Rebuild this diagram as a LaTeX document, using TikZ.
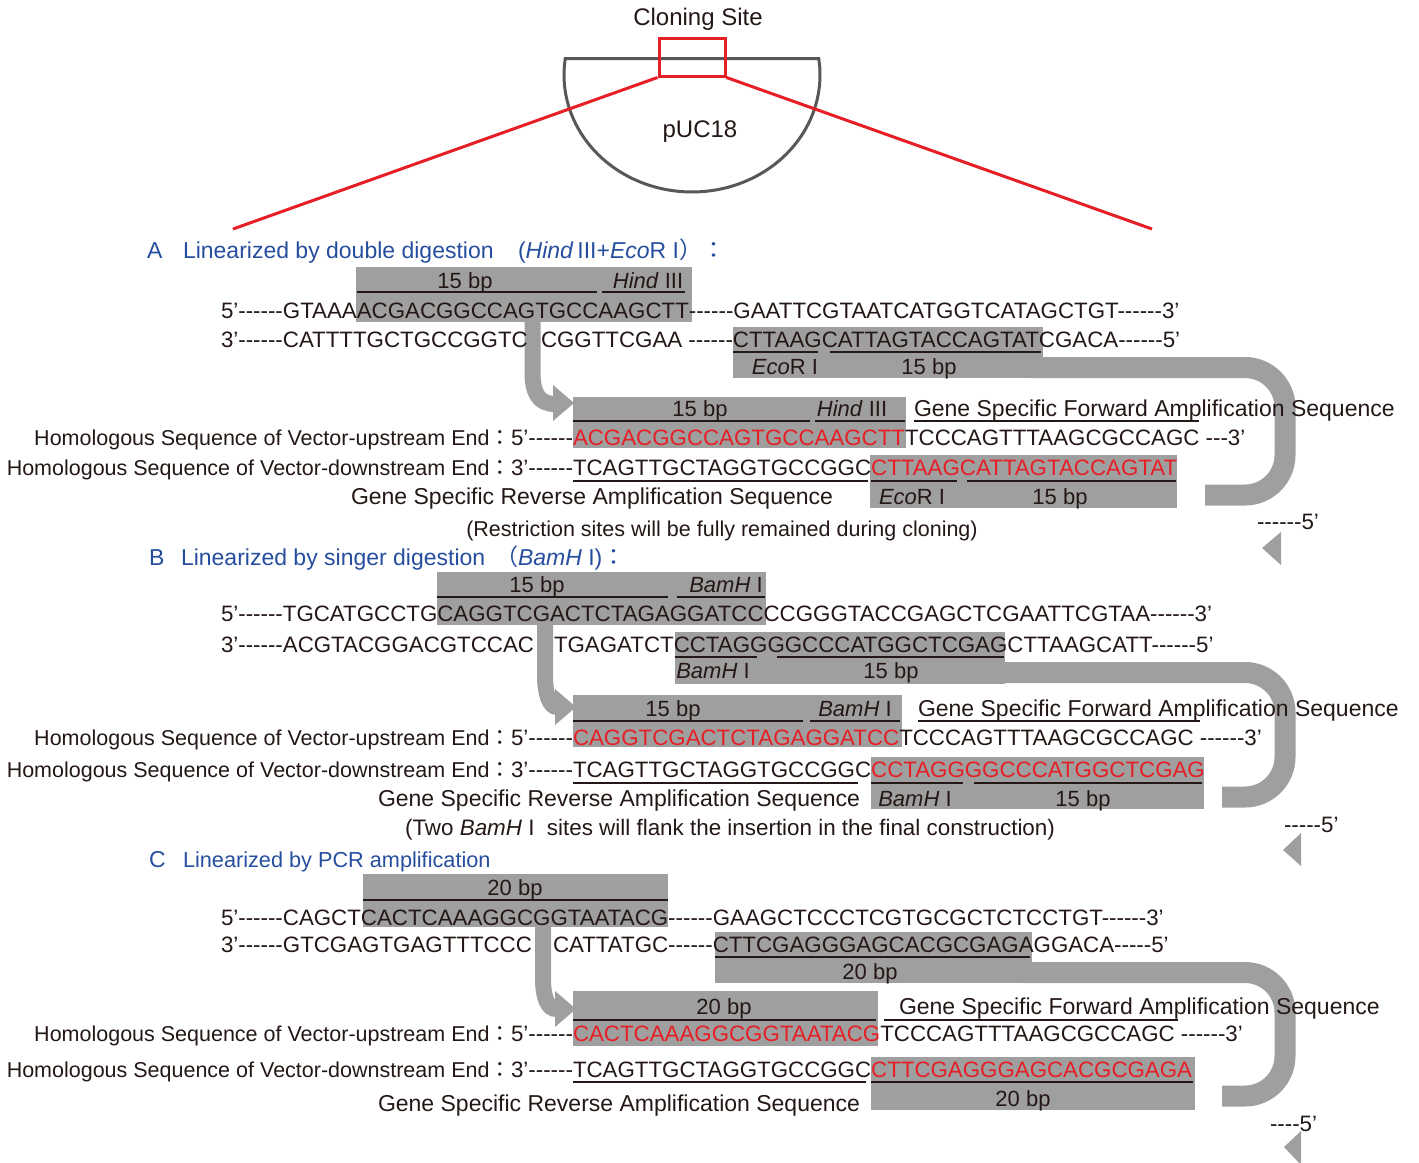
\documentclass[tikz,border=0pt]{standalone}
\usepackage{fontspec}
\setmainfont{Liberation Sans}
\newfontfamily\cjk{Noto Sans CJK TC}
\usetikzlibrary{calc,backgrounds}
\definecolor{gbox}{RGB}{160,159,159}
\definecolor{ink}{RGB}{35,24,21}
\definecolor{rd}{RGB}{230,30,37}
\definecolor{bl}{RGB}{38,78,158}
\definecolor{pl}{RGB}{89,87,87}
\newcommand\fsq{\fontsize{22.3}{26}\selectfont}
\newcommand\flab{\fontsize{22}{26}\selectfont}
\newcommand\fhd{\fontsize{23}{27}\selectfont}
\newcommand\fhc{\fontsize{21.7}{26}\selectfont}
\newcommand\fgs{\fontsize{23}{27}\selectfont}
\newcommand\fho{\fontsize{21.5}{26}\selectfont}
\newcommand\fnt{\fontsize{21.5}{26}\selectfont}
\newcommand\fntb{\fontsize{22.4}{26}\selectfont}
\newcommand\fti{\fontsize{24}{28}\selectfont}
\newcommand\Hthree{-\kern0pt-\kern0pt-}
\newcommand\Hfour{\Hthree\kern0pt-}
\newcommand\Hfive{\Hfour\kern0pt-}
\newcommand\Hsix{\Hfive\kern0pt-}
\tikzset{
  t/.style={anchor=base west, inner sep=0pt, outer sep=0pt, font=\fsq, text=ink},
  rs/.style={t, text=rd},
  lb/.style={anchor=base, inner sep=0pt, outer sep=0pt, font=\flab, text=ink},
  hd/.style={anchor=base west, inner sep=0pt, outer sep=0pt, font=\fhd, text=bl},
  ul/.style={draw=ink, line width=1.6pt},
  band/.style={draw=gbox, line width=21pt, rounded corners=40pt},
  dn/.style={draw=gbox, line width=16pt},
}
\begin{document}
\begin{tikzpicture}[x=1pt,y=-1pt]
\useasboundingbox (0,0) rectangle (1419,1162);

% ---------- plasmid ----------
\draw[pl, line width=3pt] plot[domain=188:-8, samples=90] ({692+128*cos(\x)},{75+117*sin(\x)}) -- cycle;
\node[anchor=base, font=\fti, text=ink, inner sep=0pt] (puc) at (700,137) {pUC18};
\node[anchor=base, font=\fti, text=ink, inner sep=0pt] (cs) at (698,25) {Cloning Site};
\node[draw=rd, line width=3pt, minimum width=66pt, minimum height=38pt, inner sep=0pt] (clo) at (692,57) {};
\coordinate (rl) at (233,229);
\coordinate (rr) at (1152,229);
\draw[rd, line width=3pt] (clo.south west) -- (rl);
\draw[rd, line width=3pt] (clo.south east) -- (rr);

% ---------- A ----------
\node[hd] (hA) at (147,258) {A};
\node[hd] (hA1) at (183,258) {Linearized by double digestion};
\node[hd] (hA2) at (518,258) {(\textit{Hind}\,III+\textit{Eco}R I{\cjk ）：}};

\node[t] (a1) at (221,318) {5’\Hsix GTAAA};
\node[t] (a2) at (a1.base east) {ACGACGGCCAGTGCC};
\node[t] (a3) at (a2.base east) {AAGCTT};
\node[t] (a4) at (a3.base east) {\Hsix GAATTCGTAATCATGGTCATAGCTGT\Hsix 3’};
\node[lb] (la1) at (465,288) {15 bp};
\node[lb] (la2) at (648,288) {\textit{Hind} III};
\draw[ul] (357,292) -- (597,292);
\draw[ul] (602,292) -- (685,292);

\node[t] (b1) at (221,347) {3’\Hsix CATTTTGCTGCCGGTC};
\node[t] (b2) at (541,347) {CGGTTCGAA \Hsix};
\node[t] (b3) at (b2.base east) {CTTAAG};
\node[t] (b4) at (b3.base east) {CATTAGTACCAGTAT};
\node[t] (b5) at (b4.base east) {CGACA\Hsix 5’};
\draw[ul] (733,352) -- (818,352);
\draw[ul] (830,352) -- (1041,352);
\node[lb] (lb1) at (785,374) {\textit{Eco}R I};
\node[lb] (lb2) at (929,374) {15 bp};

\node[t, anchor=base east, font=\fho] (u0) at (573,445) {Homologous Sequence of Vector-upstream End{\cjk ：}{\fsq 5’\Hsix}};
\node[rs] (u1) at (573,445) {ACGACGGCCAGTGCC};
\node[rs] (u2) at (u1.base east) {AAGCTT};
\node[t] (u3) at (u2.base east) {TCCCAGTTTAAGCGCCAGC};
\node[t] (u4) at (u3.base east) {\ \Hthree 3’};
\node[lb] (lu1) at (700,416) {15 bp};
\node[lb] (lu2) at (852,416) {\textit{Hind} III};
\draw[ul] (573,421) -- (810,421);
\draw[ul] (815,421) -- (905,421);
\node[t, font=\fgs] (gfA) at (914,416) {Gene Specific Forward Amplification Sequence};
\draw[ul] (914,421) -- (1199,421);

\node[t, anchor=base east, font=\fho] (d0) at (573,475) {Homologous Sequence of Vector-downstream End{\cjk ：}{\fsq 3’\Hsix}};
\node[t] (d1) at (573,475) {TCAGTTGCTAGGTGCCGGC};
\node[rs] (d2) at (d1.base east) {CTTAAG};
\node[rs] (d3) at (d2.base east) {CATTAGTACCAGTAT};
\draw[ul] (573,481) -- (868,481);
\draw[ul] (871,481) -- (957,481);
\draw[ul] (967,481) -- (1176,481);
\node[lb] (ld1) at (912,504) {\textit{Eco}R I};
\node[lb] (ld2) at (1060,504) {15 bp};
\node[t, anchor=base east, font=\fgs] (grA) at (833,504) {Gene Specific Reverse Amplification Sequence};
\node[t, anchor=base, font=\fnt] (nA) at (722,536) {(Restriction sites will be fully remained during cloning)};
\node[t] (eA) at (1257,529) {\Hsix 5’};

% ---------- B ----------
\node[hd] (hB) at (149,565) {B};
\node[hd] (hB1) at (181,565) {Linearized by singer digestion};
\node[hd] (hB2) at (495,565) {{\cjk （}\textit{BamH} I){\cjk ：}};

\node[t] (c1) at (221,621) {5’\Hsix TGCATGCCTG};
\node[t] (c2) at (c1.base east) {CAGGTCGACTCTAGA};
\node[t] (c3) at (c2.base east) {GGATCC};
\node[t] (c4) at (c3.base east) {CCGGGTACCGAGCTCGAATTCGTAA\Hsix 3’};
\node[lb] (lc1) at (537,592) {15 bp};
\node[lb] (lc2) at (726,592) {\textit{BamH} I};
\draw[ul] (437,597) -- (668,597);
\draw[ul] (677,597) -- (765,597);

\node[t] (e1) at (221,652) {3’\Hsix ACGTACGGACGTCCAC};
\node[t] (e2) at (554,652) {TGAGATCT};
\node[t] (e3) at (e2.base east) {CCTAGG};
\node[t] (e4) at (e3.base east) {GGCCCATGGCTCGAG};
\node[t] (e5) at (e4.base east) {CTTAAGCATT\Hsix 5’};
\draw[ul] (675,657) -- (757,657);
\draw[ul] (777,657) -- (1004,657);
\node[lb] (le1) at (713,678) {\textit{BamH} I};
\node[lb] (le2) at (891,678) {15 bp};

\node[t, anchor=base east, font=\fho] (v0) at (573,745) {Homologous Sequence of Vector-upstream End{\cjk ：}{\fsq 5’\Hsix}};
\node[rs] (v1) at (573,745) {CAGGTCGACTCTAGA};
\node[rs] (v2) at (v1.base east) {GGATCC};
\node[t] (v3) at (v2.base east) {TCCCAGTTTAAGCGCCAGC};
\node[t] (v4) at (v3.base east) {\ \Hsix 3’};
\node[lb] (lv1) at (673,716) {15 bp};
\node[lb] (lv2) at (855,716) {\textit{BamH} I};
\draw[ul] (573,721) -- (803,721);
\draw[ul] (810,721) -- (900,721);
\node[t, font=\fgs] (gfB) at (918,716) {Gene Specific Forward Amplification Sequence};
\draw[ul] (918,721) -- (1200,721);

\node[t, anchor=base east, font=\fho] (w0) at (573,777) {Homologous Sequence of Vector-downstream End{\cjk ：}{\fsq 3’\Hsix}};
\node[t] (w1) at (573,777) {TCAGTTGCTAGGTGCCGGC};
\node[rs] (w2) at (w1.base east) {CCTAGG};
\node[rs] (w3) at (w2.base east) {GGCCCATGGCTCGAG};
\draw[ul] (573,783) -- (858,783);
\draw[ul] (871,783) -- (963,783);
\draw[ul] (974,783) -- (1202,783);
\node[lb] (lw1) at (915,806) {\textit{BamH} I};
\node[lb] (lw2) at (1083,806) {15 bp};
\node[t, anchor=base east, font=\fgs] (grB) at (860,806) {Gene Specific Reverse Amplification Sequence};
\node[t, anchor=base, font=\fntb] (nB) at (730,835) {(Two \textit{BamH} I\ \ sites will flank the insertion in the final construction)};
\node[t] (eB) at (1284,832) {\Hfive 5’};

% ---------- C ----------
\node[hd] (hC) at (149,867) {C};
\node[hd, font=\fhc] (hC1) at (183,867) {Linearized by PCR amplification};

\node[t] (f1) at (221,925) {5’\Hsix CAGCT};
\node[t] (f2) at (f1.base east) {CACTCAAAGGCGGTAATACG};
\node[t] (f3) at (f2.base east) {\Hsix GAAGCTCCCTCGTGCGCTCTCCTGT\Hsix 3’};
\node[lb] (lf1) at (515,895) {20 bp};
\draw[ul] (363,900) -- (668,900);

\node[t] (g1) at (221,952) {3’\Hsix GTCGAGTGAGTTTCCC};
\node[t] (g2) at (553,952) {CATTATGC\Hsix};
\node[t] (g3) at (g2.base east) {CTTCGAGGGAGCACGCGAGA};
\node[t] (g4) at (g3.base east) {GGACA\Hfive 5’};
\draw[ul] (715,957) -- (1030,957);
\node[lb] (lg1) at (870,979) {20 bp};

\node[t, anchor=base east, font=\fho] (x0) at (573,1041) {Homologous Sequence of Vector-upstream End{\cjk ：}{\fsq 5’\Hsix}};
\node[rs] (x1) at (573,1041) {CACTCAAAGGCGGTAATACG};
\node[t] (x2) at (x1.base east) {TCCCAGTTTAAGCGCCAGC};
\node[t] (x3) at (x2.base east) {\ \Hsix 3’};
\node[lb] (lx1) at (724,1014) {20 bp};
\draw[ul] (573,1020) -- (876,1020);
\node[t, font=\fgs] (gfC) at (899,1014) {Gene Specific Forward Amplification Sequence};
\draw[ul] (884,1020) -- (1178,1020);

\node[t, anchor=base east, font=\fho] (y0) at (573,1077) {Homologous Sequence of Vector-downstream End{\cjk ：}{\fsq 3’\Hsix}};
\node[t] (y1) at (573,1077) {TCAGTTGCTAGGTGCCGGC};
\node[rs] (y2) at (y1.base east) {CTTCGAGGGAGCACGCGAGA};
\draw[ul] (573,1082) -- (866,1082);
\draw[ul] (871,1082) -- (1193,1082);
\node[lb] (ly1) at (1023,1106) {20 bp};
\node[t, anchor=base east, font=\fgs] (grC) at (860,1111) {Gene Specific Reverse Amplification Sequence};
\node[t] (eC) at (1270,1131) {\Hfour 5’};

% ---------- background boxes and arrows ----------
\begin{pgfonlayer}{background}
\fill[gbox] (356,267) rectangle (692,322);
\fill[gbox] (733,327) rectangle (1043,378);
\fill[gbox] (573,397) rectangle (906,448);
\fill[gbox] (870,455) rectangle (1177,508);
\fill[gbox] (437,572) rectangle (766,625);
\fill[gbox] (675,632) rectangle (1005,684);
\fill[gbox] (573,695) rectangle (902,747);
\fill[gbox] (871,757) rectangle (1204,809);
\fill[gbox] (363,874) rectangle (668,927);
\fill[gbox] (715,932) rectangle (1032,983);
\fill[gbox] (573,991) rectangle (878,1046);
\fill[gbox] (871,1057) rectangle (1195,1110);
% big return bands
\draw[band] (1030,367.5) -- (1285,367.5) -- (1285,495) -- (1205,495);
\draw[band] (995,672.5) -- (1285,672.5) -- (1285,797) -- (1222,797);
\draw[band] (1022,972.5) -- (1285,972.5) -- (1285,1096) -- (1222,1096);
\fill[gbox] (1281,532) -- (1281,565) -- (1262,548) -- cycle;
\fill[gbox] (1301,833) -- (1301,866) -- (1283,850) -- cycle;
\fill[gbox] (1301,1131) -- (1301,1165) -- (1284,1147) -- cycle;
% bent down arrows
\draw[dn] (532.5,322) -- (532.5,372) .. controls (532.5,392) and (538,404) .. (555,404);
\fill[gbox] (553,385) -- (574,403) -- (553,421) -- cycle;
\draw[dn] (545,625) -- (545,675) .. controls (545,695) and (550,707) .. (557,707);
\fill[gbox] (555,689) -- (576,707) -- (555,725) -- cycle;
\draw[dn] (543,927) -- (543,978) .. controls (543,998) and (548,1009) .. (556,1009);
\fill[gbox] (555,991) -- (576,1009) -- (555,1027) -- cycle;
\end{pgfonlayer}
\end{tikzpicture}
\end{document}
